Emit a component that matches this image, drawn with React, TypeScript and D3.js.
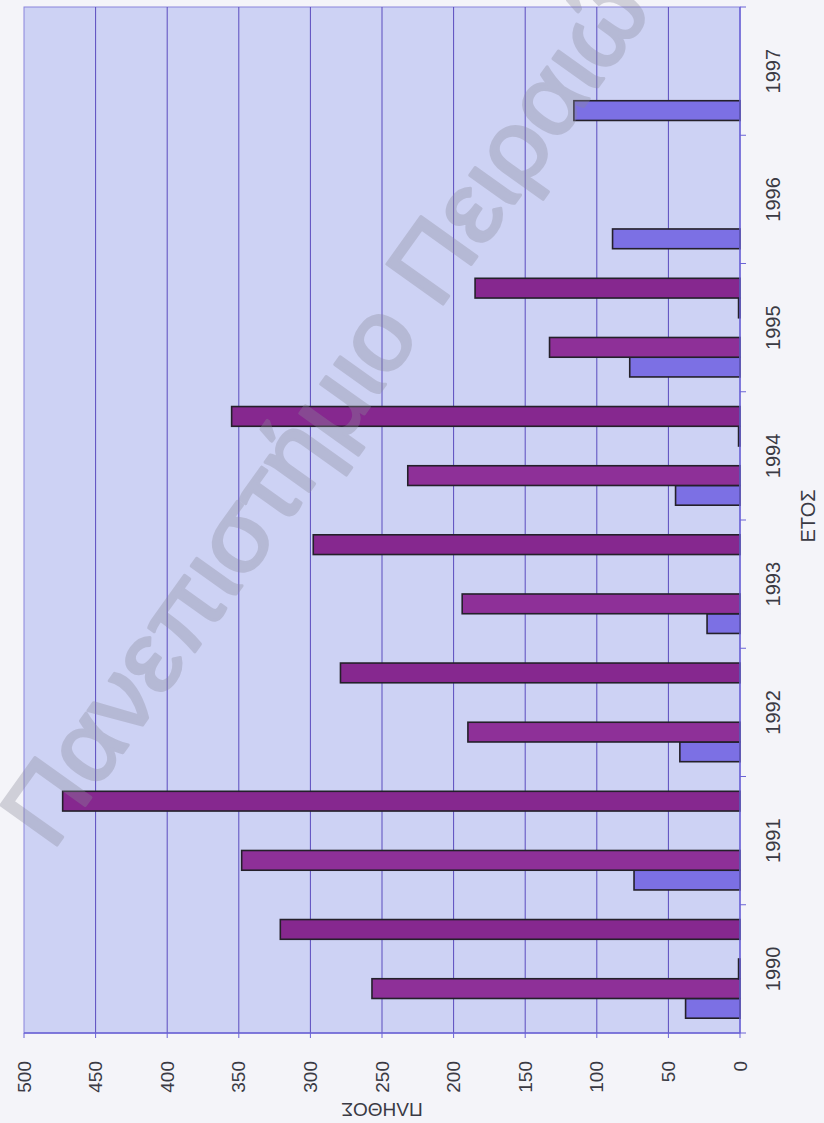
import React from "react";
import * as d3 from "d3";

// Counts per year, five series (the last three sparse)
const years = ["1990", "1991", "1992", "1993", "1994", "1995", "1996", "1997"];
const seriesKeys = ["Σειρά1", "Σειρά2", "Σειρά3", "Σειρά4", "Σειρά5"];
const series1 = [38, 74, 42, 23, 45, 77, 89, 116];
const series2 = [257, 348, 190, 194, 232, 133, 0, 0];
const series3 = [1, 0, 0, 0, 0, 0, 0, 0];
const series4 = [0, 0, 0, 0, 1, 1, 0, 0];
const series5 = [321, 473, 279, 298, 355, 185, 0, 0];
const valueTicks = [0, 50, 100, 150, 200, 250, 300, 350, 400, 450, 500];
const seriesColors = ["#7c70e4", "#8e3098", "#fbfbd0", "#d0f4f6", "#86288f"];

const W = 824;
const H = 1123;
const FONT = "'Liberation Sans', Arial, sans-serif";

// The chart is laid out as an ordinary column chart in an inner frame
// (u along categories, v down the value axis) and turned a quarter turn.
const uMin = H - 1033;
const uMax = H - 7;
const vZero = 740;
const vTop = 24;

export default function App() {
  const allSeries = [series1, series2, series3, series4, series5];
  const x0 = d3.scaleBand<string>().domain(years).range([uMin, uMax]).paddingInner(0).paddingOuter(0);
  const x1 = d3
    .scaleBand<string>()
    .domain(seriesKeys)
    .range([0, x0.bandwidth()])
    .paddingInner(0)
    .paddingOuter(0.75);
  const y = d3.scaleLinear().domain([0, 500]).range([vZero, vTop]);

  const bars: { key: string; u: number; w: number; v: number; h: number; fill: string }[] = [];
  years.forEach((yr, i) => {
    allSeries.forEach((s, j) => {
      const val = s[i];
      if (!val) return;
      bars.push({
        key: `${yr}-${j}`,
        u: (x0(yr) as number) + (x1(seriesKeys[j]) as number),
        w: x1.bandwidth(),
        v: y(val),
        h: y(0) - y(val),
        fill: seriesColors[j],
      });
    });
  });

  const boundaries = d3.range(years.length + 1).map((i) => uMin + i * x0.step());

  return (
    <svg
      width={W}
      height={H}
      style={{ position: "absolute", left: 0, top: 0, display: "block" }}
      xmlns="http://www.w3.org/2000/svg"
    >
      <rect x={0} y={0} width={W} height={H} fill="#f4f4f9" />
      <g transform={`translate(0,${H}) rotate(-90)`} fontFamily={FONT}>
        {/* plot area */}
        <rect
          x={uMin}
          y={vTop}
          width={uMax - uMin}
          height={vZero - vTop}
          fill="#cdd2f4"
          stroke="#8a84dc"
          strokeWidth={1}
        />
        {/* gridlines */}
        {valueTicks.slice(1, -1).map((t) => (
          <line
            key={`g${t}`}
            x1={uMin}
            x2={uMax}
            y1={y(t)}
            y2={y(t)}
            stroke="#5a4cbe"
            strokeWidth={1}
          />
        ))}
        {/* bars */}
        {bars.map((b) => (
          <rect
            key={b.key}
            x={b.u}
            y={b.v}
            width={b.w}
            height={b.h}
            fill={b.fill}
            stroke="#24202a"
            strokeWidth={1.6}
          />
        ))}
        {/* value axis */}
        <line x1={uMin} x2={uMin} y1={vTop} y2={vZero} stroke="#6b63d6" strokeWidth={1.5} />
        {valueTicks.map((t) => (
          <g key={`t${t}`}>
            <line x1={uMin - 5} x2={uMin} y1={y(t)} y2={y(t)} stroke="#6b63d6" strokeWidth={1} />
            <text
              x={uMin - 28}
              y={y(t)}
              textAnchor="end"
              dominantBaseline="central"
              fontSize={19}
              fill="#3a3a44"
            >
              {t}
            </text>
          </g>
        ))}
        {/* category axis */}
        <line x1={uMin} x2={uMax} y1={vZero} y2={vZero} stroke="#6b63d6" strokeWidth={1.5} />
        {boundaries.map((b, i) => (
          <line key={`c${i}`} x1={b} x2={b} y1={vZero} y2={vZero + 6} stroke="#6b63d6" strokeWidth={1} />
        ))}
        {years.map((yr) => (
          <text
            key={yr}
            x={(x0(yr) as number) + x0.bandwidth() / 2}
            y={773}
            textAnchor="middle"
            dominantBaseline="central"
            fontSize={20}
            fill="#3a3a44"
          >
            {yr}
          </text>
        ))}
        {/* axis titles */}
        <text
          x={H - 516}
          y={808}
          textAnchor="middle"
          dominantBaseline="central"
          fontSize={20}
          fill="#3a3a44"
        >
          ΕΤΟΣ
        </text>
        <text
          transform={`translate(${H - 1109},${(vTop + vZero) / 2}) rotate(-90)`}
          textAnchor="middle"
          dominantBaseline="central"
          fontSize={19}
          fill="#3a3a44"
        >
          ΠΛΗΘΟΣ
        </text>
      </g>
      {/* watermark */}
      <g opacity={0.34}>
        <text
          transform="translate(52,852) rotate(-54.5)"
          fontFamily={FONT}
          fontSize={100}
          fill="#8a8a9a"
          stroke="#8a8a9a"
          strokeWidth={3}
          strokeLinejoin="round"
          textLength={1085}
          lengthAdjust="spacingAndGlyphs"
        >
          Πανεπιστήμιο Πειραιώς
        </text>
      </g>
    </svg>
  );
}
